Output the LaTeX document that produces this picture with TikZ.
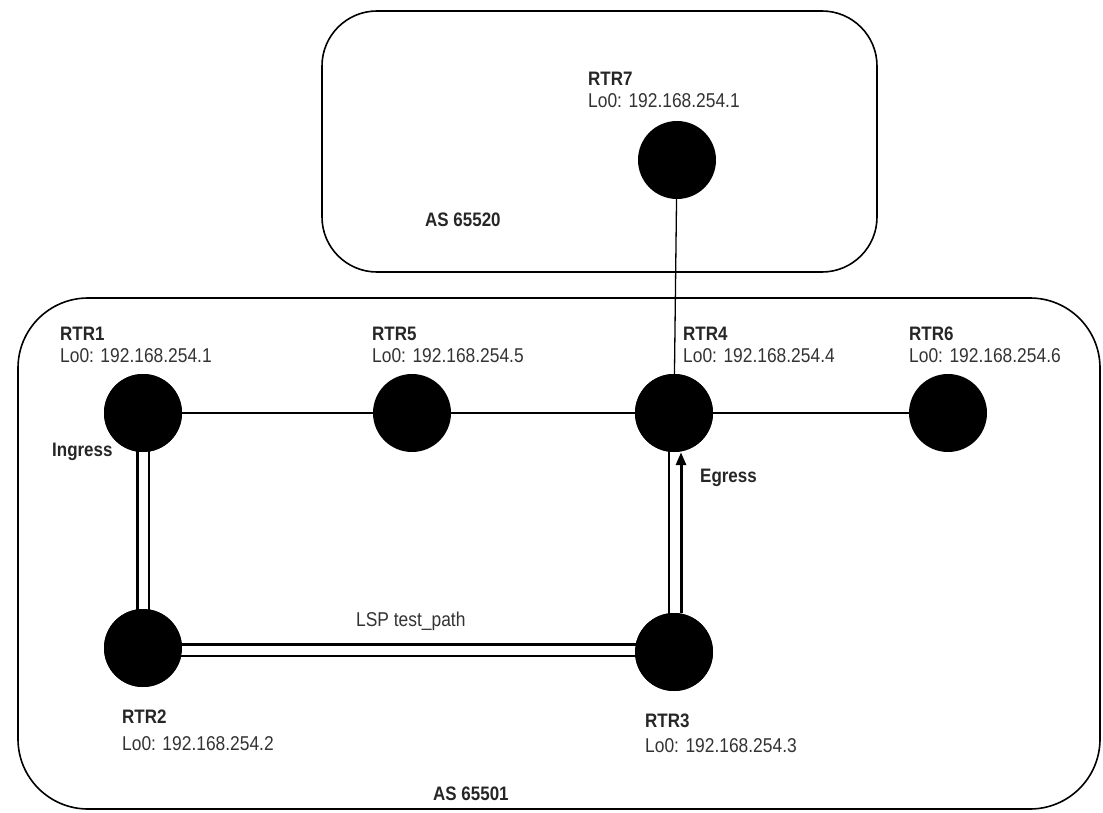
\documentclass[tikz,border=0pt]{standalone}
\usepackage{fontspec}
\setmainfont{Liberation Sans}
\newfontfamily\lblfont[FakeStretch=0.87]{Liberation Sans}
\usetikzlibrary{arrows.meta}
\tikzset{
  router/.style={circle, fill=black, minimum size=78pt, inner sep=0pt},
  asbox/.style={draw=black, line width=1.6pt, rounded corners=55pt},
  rname/.style={anchor=base west, inner sep=0pt, font=\lblfont\bfseries\fontsize{19.5}{21}\selectfont, text=black!85},
  raddr/.style={anchor=base west, inner sep=0pt, font=\lblfont\fontsize{20}{22}\selectfont, text=black!80},
  plainlink/.style={line width=2pt, black},
  lsppath/.style={double=white, double distance=9pt, line width=2.6pt, black},
}
\begin{document}
\begin{tikzpicture}[x=1pt,y=-1pt]
\useasboundingbox (0,0) rectangle (1103,813);
% AS boxes
\draw[asbox] (322,11) rectangle (877,272);
\draw[asbox, rounded corners=70pt] (18,298) rectangle (1100,809);
% routers
\node[router] (r7) at (677,160) {};
\node[router] (r1) at (143,413) {};
\node[router] (r5) at (412,413) {};
\node[router] (r4) at (674,413) {};
\node[router] (r6) at (948,413) {};
\node[router] (r2) at (143,648) {};
\node[router] (r3) at (674,652) {};
% links
\draw[line width=1.3pt] (r7) -- (r4);
\draw[plainlink] (r1) -- (r5);
\draw[plainlink] (r5) -- (r4);
\draw[plainlink] (r4) -- (r6);
% LSP path
\coordinate (r2h) at ([yshift=-2pt]r2.center);
\coordinate (r3h) at (r3.center |- r2h);
\draw[lsppath] (r1.center) -- (r2.center);
\draw[lsppath] (r2h) -- (r3h);
\coordinate (r3l) at ([xshift=-5pt]r3.center);
\coordinate (r4l) at ([xshift=-5pt]r4.center);
\coordinate (r3r) at ([xshift=7pt]r3.north);
\coordinate (r4r) at ([xshift=7pt]r4.south);
\draw[line width=2pt] (r3l) -- (r4l);
\draw[line width=3pt, -{Triangle[length=13pt,width=10pt]}] (r3r) -- (r4r);
\node[router] at (r1) {};
\node[router] at (r2) {};
\node[router] at (r3) {};
\node[router] at (r4) {};
% labels
\node[rname] (n7) at (588,86) {RTR7};
\node[raddr] (a7) at (588,108) {Lo0: 192.168.254.1};
\node[rname] (as1) at (425,226) {AS 65520};
\node[rname] (n1) at (60,340) {RTR1};
\node[raddr] (a1) at (60,362) {Lo0: 192.168.254.1};
\node[rname] (n5) at (372,340) {RTR5};
\node[raddr] (a5) at (372,362) {Lo0: 192.168.254.5};
\node[rname] (n4) at (683,340) {RTR4};
\node[raddr] (a4) at (683,362) {Lo0: 192.168.254.4};
\node[rname] (n6) at (909,340) {RTR6};
\node[raddr] (a6) at (909,362) {Lo0: 192.168.254.6};
\node[rname] (ing) at (52,456) {Ingress};
\node[rname] (eg) at (700,482) {Egress};
\node[raddr] (lsp) at (356,626) {LSP test\_path};
\node[rname] (n2) at (122,723) {RTR2};
\node[raddr] (a2) at (122,750) {Lo0: 192.168.254.2};
\node[rname] (n3) at (645,727) {RTR3};
\node[raddr] (a3) at (645,752) {Lo0: 192.168.254.3};
\node[rname] (as2) at (433,800) {AS 65501};
\end{tikzpicture}
\end{document}
